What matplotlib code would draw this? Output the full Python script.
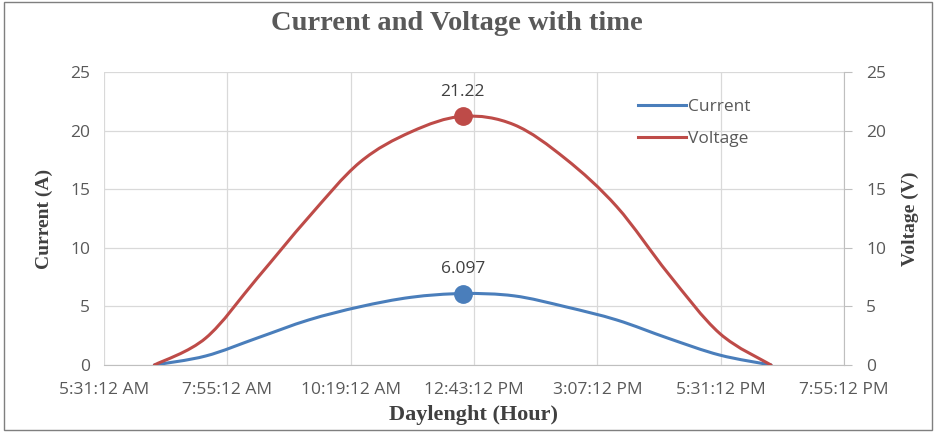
import matplotlib
matplotlib.use("Agg")
import matplotlib.pyplot as plt
from matplotlib.path import Path
from matplotlib.patches import PathPatch, Rectangle
from matplotlib.lines import Line2D
from matplotlib.ticker import FuncFormatter, MultipleLocator

# time of day as fraction of a day (Excel style), hourly readings 6:30 AM .. 6:30 PM
hours = [6.5, 7.5, 8.5, 9.5, 10.5, 11.5, 12.5, 13.5, 14.5, 15.5, 16.5, 17.5, 18.5]
current = [0, 0.77, 2.3, 3.84, 4.97, 5.78, 6.097, 5.9, 4.97, 3.84, 2.28, 0.85, 0]
voltage = [0, 2.3, 7.4, 12.6, 17.3, 19.9, 21.22, 20.5, 17.6, 13.5, 7.8, 2.7, 0]
peak_idx = 6

x_ticks = [0.23, 0.33, 0.43, 0.53, 0.63, 0.73, 0.83]

BLUE = "#4a7ebb"
RED = "#be4b48"
GRAY = "#595959"
GRID = "#d9d9d9"


def smooth_path(xs, ys):
    # Excel-like smoothed line: cubic bezier with catmull-rom control points
    pts = list(zip(xs, ys))
    verts = [pts[0]]
    codes = [Path.MOVETO]
    n = len(pts)
    for i in range(n - 1):
        p0 = pts[i - 1] if i > 0 else pts[i]
        p1 = pts[i]
        p2 = pts[i + 1]
        p3 = pts[i + 2] if i + 2 < n else pts[i + 1]
        c1 = (p1[0] + (p2[0] - p0[0]) / 6, p1[1] + (p2[1] - p0[1]) / 6)
        c2 = (p2[0] - (p3[0] - p1[0]) / 6, p2[1] - (p3[1] - p1[1]) / 6)
        verts += [c1, c2, p2]
        codes += [Path.CURVE4] * 3
    return Path(verts, codes)


def fmt_time(v, pos):
    total = int(round(v * 86400))
    h, rem = divmod(total, 3600)
    m, s = divmod(rem, 60)
    ampm = "AM" if h < 12 else "PM"
    h12 = h % 12 or 12
    return f"{h12}:{m:02d}:{s:02d} {ampm}"


tx = [h / 24 for h in hours]

fig = plt.figure(figsize=(9.36, 4.32), dpi=100)
ax = fig.add_axes([104 / 936, 1 - 365 / 432, 740 / 936, 293 / 432])
ax2 = ax.twinx()

TICK_FS = 12.5
label_font = dict(family="Liberation Serif", weight="bold", size=14, color="#404040")

for a in (ax, ax2):
    a.set_xlim(0.23, 0.83)
    a.set_ylim(0, 25)
    a.yaxis.set_major_locator(MultipleLocator(5))
    for s in a.spines.values():
        s.set_visible(False)

ax.set_xticks(x_ticks)
ax.xaxis.set_major_formatter(FuncFormatter(fmt_time))
ax.grid(True, color=GRID, linewidth=0.9)
ax.set_axisbelow(True)
ax.spines["bottom"].set_visible(True)
ax.spines["bottom"].set_color("#bfbfbf")
ax.tick_params(axis="y", length=0, pad=10)
ax.tick_params(axis="x", length=0, pad=12)
for lbl in ax.get_xticklabels() + ax.get_yticklabels():
    lbl.set_fontfamily("Open Sans")
    lbl.set_fontsize(TICK_FS)
    lbl.set_color(GRAY)

ax2.spines["right"].set_visible(True)
ax2.spines["right"].set_color("#bfbfbf")
ax2.tick_params(axis="y", length=6, color="#bfbfbf", pad=10)
for lbl in ax2.get_yticklabels():
    lbl.set_fontfamily("Open Sans")
    lbl.set_fontsize(TICK_FS)
    lbl.set_color(GRAY)

ax.add_patch(PathPatch(smooth_path(tx, current), fill=False, edgecolor=BLUE,
                       linewidth=2.2, capstyle="round", zorder=3))
ax2.add_patch(PathPatch(smooth_path(tx, voltage), fill=False, edgecolor=RED,
                        linewidth=2.2, capstyle="round", zorder=3))

ax.plot([tx[peak_idx]], [current[peak_idx]], "o", color=BLUE, markersize=12.5, zorder=4)
ax2.plot([tx[peak_idx]], [voltage[peak_idx]], "o", color=RED, markersize=12.5, zorder=4)
ax.annotate(f"{current[peak_idx]}", (tx[peak_idx], current[peak_idx]),
            xytext=(0, 12), textcoords="offset points", ha="center", va="bottom",
            fontfamily="Open Sans", fontsize=TICK_FS, color="#404040")
ax2.annotate(f"{voltage[peak_idx]}", (tx[peak_idx], voltage[peak_idx]),
             xytext=(0, 12), textcoords="offset points", ha="center", va="bottom",
             fontfamily="Open Sans", fontsize=TICK_FS, color="#404040")

ax.set_ylabel("Current (A)", labelpad=12, **label_font)
ax2.set_ylabel("Voltage (V)", labelpad=11, **label_font)
ax.set_xlabel("Daylenght (Hour)", labelpad=5, family="Liberation Serif",
              weight="bold", size=16, color="#404040")

handles = [Line2D([], [], color=BLUE, linewidth=2.2),
           Line2D([], [], color=RED, linewidth=2.2)]
leg = ax2.legend(handles, ["Current", "Voltage"], loc="upper left",
                 bbox_to_anchor=(0.70, 0.96), frameon=False, handlelength=2.8,
                 handletextpad=0.1, labelspacing=0.9,
                 prop=dict(family="Open Sans", size=TICK_FS))
for t in leg.get_texts():
    t.set_color(GRAY)

fig.text(0.488, 1 - 23 / 432, "Current and Voltage with time", ha="center", va="center",
         fontfamily="Liberation Serif", fontweight="bold", fontsize=20.5, color=GRAY)

fig.patches.append(Rectangle((0.004, 0.004), 0.992, 0.992, transform=fig.transFigure,
                             fill=False, edgecolor="#7f7f7f", linewidth=1.0))

fig.savefig("out.png", dpi=100)
